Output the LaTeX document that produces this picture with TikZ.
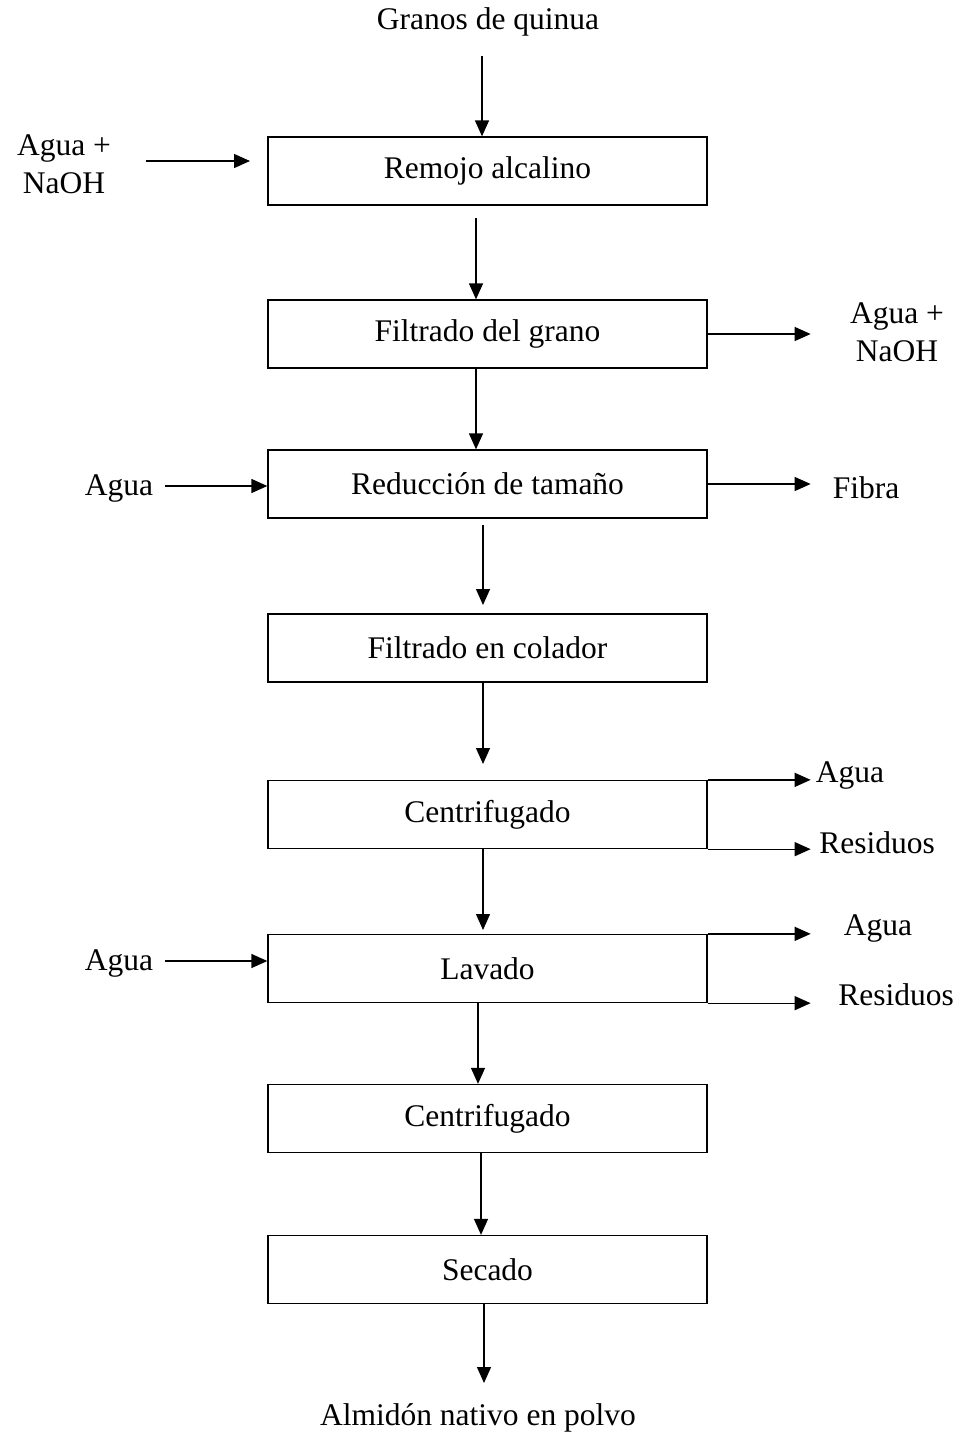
\documentclass[tikz,border=0pt]{standalone}
\usepackage{fontspec}
\setmainfont{Liberation Serif}
\usetikzlibrary{arrows.meta}
\begin{document}
\begin{tikzpicture}[x=1pt,y=-1pt,
  font=\fontsize{31.5}{38}\selectfont,
  line width=1.3pt,
  proc/.style={draw, minimum width=439pt, minimum height=68pt, inner sep=0pt},
  arr/.style={-{Triangle[length=16pt,width=14pt]}},
  lbl/.style={align=center, inner sep=0pt}]
\useasboundingbox (0,0) rectangle (967,1438);
% process boxes
\node[proc] (b1) at (487.5,171) {Remojo alcalino};
\node[proc] (b2) at (487.5,334) {Filtrado del grano};
\node[proc] (b3) at (487.5,484) {Reducción de tamaño};
\node[proc] (b4) at (487.5,648) {Filtrado en colador};
\node[proc] (b5) at (487.5,814.5) {Centrifugado};
\node[proc] (b6) at (487.5,968.5) {Lavado};
\node[proc] (b7) at (487.5,1118.5) {Centrifugado};
\node[proc] (b8) at (487.5,1269.5) {Secado};
% labels
\node[lbl] (top) at (488,22) {Granos de quinua};
\node[lbl] (bot) at (478,1418) {Almidón nativo en polvo};
\node[lbl] (in1) at (64,164) {Agua +\\NaOH};
\node[lbl] (out2) at (897,332) {Agua +\\NaOH};
\node[lbl] (in3) at (119,488) {Agua};
\node[lbl] (out3) at (866,488) {Fibra};
\node[lbl] (out5a) at (850,775) {Agua};
\node[lbl] (out5b) at (877,843) {Residuos};
\node[lbl] (out6a) at (878,928) {Agua};
\node[lbl] (out6b) at (896,995) {Residuos};
\node[lbl] (in6) at (119,963) {Agua};
% vertical connectors
\coordinate (t0) at (482,56);
\draw[arr] (t0) -- (t0 |- b1.north);
\coordinate (t1) at (476,218);
\draw[arr] (t1) -- (t1 |- b2.north);
\coordinate (t2) at (476,368);
\draw[arr] (t2) -- (t2 |- b3.north);
\coordinate (t3) at (483,525);
\coordinate (e3) at (483,605);
\draw[arr] (t3) -- (e3);
\coordinate (t4) at (483,682);
\coordinate (e4) at (483,764);
\draw[arr] (t4) -- (e4);
\coordinate (t5) at (483,848);
\coordinate (e5) at (483,930);
\draw[arr] (t5) -- (e5);
\coordinate (t6) at (478,1002);
\draw[arr] (t6) -- (t6 |- b7.north);
\coordinate (t7) at (481,1152);
\draw[arr] (t7) -- (t7 |- b8.north);
\coordinate (t8) at (484,1303);
\coordinate (e8) at (484,1383);
\draw[arr] (t8) -- (e8);
% side connectors
\coordinate (s1) at (146,161);
\coordinate (s1e) at (250,161);
\draw[arr] (s1) -- (s1e);
\draw[arr] (b2.east) -- ++(103,0);
\coordinate (s3) at (165,486);
\draw[arr] (s3) -- (s3 -| b3.west);
\draw[arr] (b3.east) -- ++(103,0);
\draw[arr] (b5.north east) -- ++(103,0);
\draw[arr] (b5.south east) -- ++(103,0);
\draw[arr] (b6.north east) -- ++(103,0);
\draw[arr] (b6.south east) -- ++(103,0);
\coordinate (s6) at (165,961);
\draw[arr] (s6) -- (s6 -| b6.west);
\end{tikzpicture}
\end{document}
